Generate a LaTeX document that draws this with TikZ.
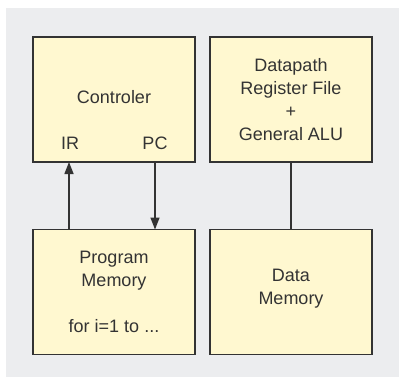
\documentclass[tikz,border=0pt]{standalone}
\usepackage{fontspec}
\setmainfont{Liberation Sans}
\usetikzlibrary{arrows.meta}
\definecolor{panel}{HTML}{ECEDEF}
\definecolor{boxfill}{HTML}{FFF8D0}
\definecolor{ink}{HTML}{333333}
\tikzset{
  block/.style={draw=ink, line width=1.6pt, fill=boxfill, minimum width=162pt,
    minimum height=125pt, inner sep=0pt, outer sep=0pt},
  txt/.style={font=\fontsize{18pt}{23pt}\selectfont, text=ink, align=center, inner sep=0pt},
  link/.style={draw=ink, line width=1.4pt},
  tip/.style={-{Triangle[length=12pt,width=9pt]}}
}
\begin{document}
\begin{tikzpicture}[x=1pt,y=-1pt]
  \useasboundingbox (0,0) rectangle (402,378);
  \fill[panel] (6,8) rectangle (399,377);

  % upper row
  \node[block] (ctrl) at (114,99.5) {};
  \node[block] (dp) at (291,99.5) {};
  % lower row
  \node[block] (pm) at (114,292) {};
  \node[block] (dm) at (291,292) {};

  \node[txt] (ctrltxt) at (114,97) {Controler};
  \node[txt] (ir) at (70,143) {IR};
  \node[txt] (pc) at (155,143) {PC};
  \node[txt] (dptxt) at (291,99.5) {Datapath\\Register File\\+\\General ALU};
  \node[txt] (pmtxt) at (114,292) {Program\\Memory\\[23pt]for i=1 to ...};
  \node[txt] (dmtxt) at (291,289) {Data\\Memory};

  % connectors between the rows
  \coordinate (irtop) at (ctrl.south -| 69,0);
  \coordinate (irbot) at (pm.north -| 69,0);
  \coordinate (pctop) at (ctrl.south -| 155,0);
  \coordinate (pcbot) at (pm.north -| 155,0);
  \draw[link,tip] (irbot) -- (irtop);
  \draw[link,tip] (pctop) -- (pcbot);
  \draw[link] (dp.south) -- (dm.north);
\end{tikzpicture}
\end{document}
